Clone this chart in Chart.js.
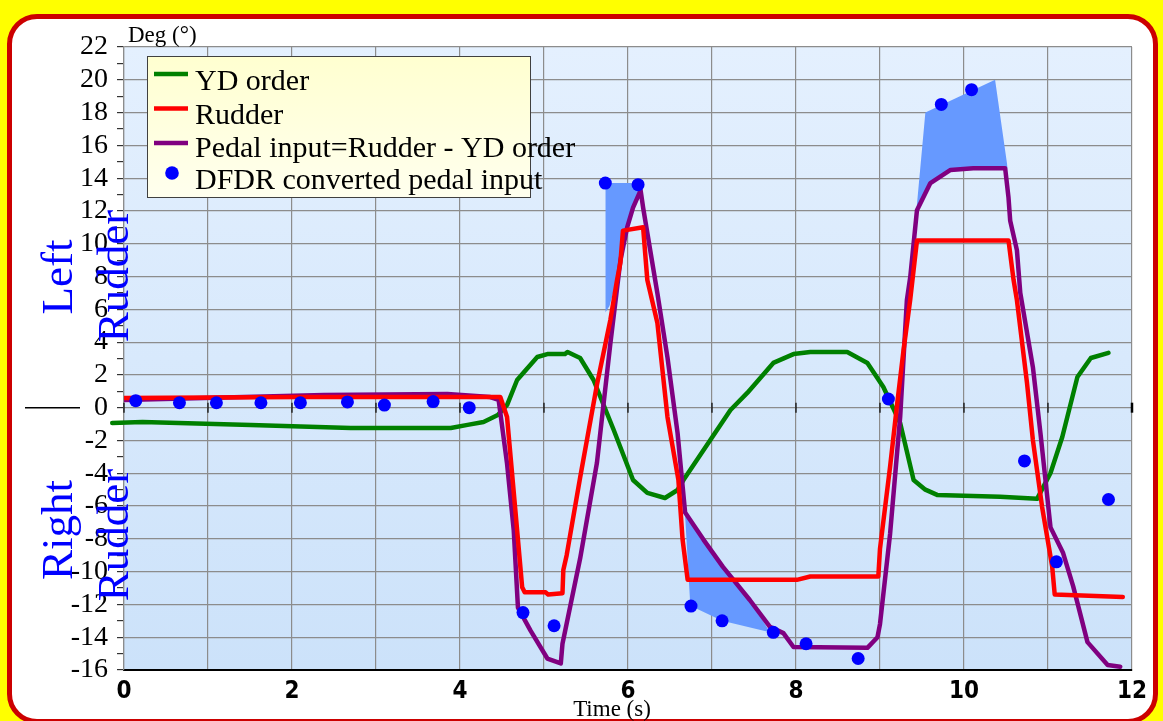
<!DOCTYPE html>
<html>
<head>
<meta charset="utf-8">
<script src="https://cdn.jsdelivr.net/npm/chart.js@4/dist/chart.umd.min.js"></script>
<style>
  html, body { margin: 0; padding: 0; background: #ffff00; overflow: hidden; }
  #frame {
    position: absolute; left: 7px; top: 14px; width: 1141px; height: 700px;
    border: 5px solid #cc0000; border-radius: 30px; background: #ffffff;
  }
  #chart { position: absolute; left: 0; top: 0; }
</style>
</head>
<body>
<div id="frame"></div>
<canvas id="chart" width="1163" height="721"></canvas>
<script>
// time axis (s) and degrees
const ydTime = [-0.14, 0.22, 1.51, 2.70, 3.89, 4.09, 4.28, 4.45, 4.56, 4.68, 4.92, 5.04, 5.25, 5.28, 5.43, 5.59, 5.83, 6.06, 6.23, 6.44, 6.59, 6.66, 6.98, 7.22, 7.42, 7.73, 7.97, 8.17, 8.61, 8.85, 9.04, 9.24, 9.40, 9.54, 9.68, 10.43, 10.87, 11.03, 11.17, 11.35, 11.51, 11.72];
const ydDeg = [-0.93, -0.87, -1.05, -1.24, -1.24, -1.05, -0.87, -0.45, 0.16, 1.69, 3.09, 3.27, 3.27, 3.40, 3.03, 1.69, -1.36, -4.41, -5.20, -5.51, -5.02, -4.41, -1.97, -0.14, 0.90, 2.73, 3.27, 3.40, 3.40, 2.73, 1.26, -0.93, -4.41, -5.0, -5.32, -5.44, -5.56, -3.98, -1.79, 1.87, 3.03, 3.34];

const rudderTime = [0, 2.10, 4.48, 4.56, 4.68, 4.74, 4.77, 5.02, 5.05, 5.22, 5.23, 5.27, 5.43, 5.63, 5.79, 5.87, 5.91, 5.94, 6.18, 6.23, 6.35, 6.47, 6.60, 6.65, 6.71, 8.01, 8.17, 8.98, 9.00, 9.12, 9.20, 9.28, 9.36, 9.44, 10.53, 10.59, 10.63, 10.75, 10.82, 10.93, 11.05, 11.08, 11.89];
const rudderDeg = [0.59, 0.65, 0.65, -0.57, -7.48, -10.95, -11.26, -11.26, -11.4, -11.32, -9.9, -9.0, -4.27, 1.39, 5.35, 7.79, 8.87, 10.8, 11.0, 7.79, 5.17, -0.57, -4.41, -8.06, -10.5, -10.5, -10.3, -10.3, -8.6, -3.6, 0.04, 3.5, 6.6, 10.2, 10.2, 7.79, 6.56, 1.5, -1.97, -6.06, -9.7, -11.4, -11.54];

const pedalTime = [0, 2.38, 3.85, 4.36, 4.46, 4.56, 4.64, 4.69, 4.84, 5.04, 5.20, 5.22, 5.43, 5.63, 5.79, 5.91, 5.99, 6.06, 6.15, 6.18, 6.35, 6.47, 6.59, 6.68, 6.90, 7.13, 7.45, 7.69, 7.85, 7.97, 8.85, 8.97, 9.00, 9.12, 9.24, 9.32, 9.36, 9.44, 9.60, 9.84, 10.11, 10.49, 10.53, 10.55, 10.63, 10.67, 10.82, 10.91, 11.03, 11.18, 11.30, 11.47, 11.71, 11.86];
const pedalDeg = [0.47, 0.77, 0.84, 0.65, 0.47, -3.4, -7.5, -12.2, -13.6, -15.3, -15.6, -14.4, -9.2, -3.37, 3.92, 8.99, 11.0, 12.2, 13.26, 12.2, 6.97, 3.06, -1.54, -6.4, -8.06, -9.71, -11.73, -13.37, -13.75, -14.6, -14.65, -14.0, -13.2, -7.7, -0.57, 6.56, 7.96, 12.04, 13.7, 14.5, 14.6, 14.6, 12.8, 11.4, 9.6, 7.0, 2.48, -1.54, -7.3, -8.87, -10.9, -14.3, -15.7, -15.8];

const dfdrTime = [0.14, 0.66, 1.10, 1.63, 2.10, 2.66, 3.10, 3.68, 4.11, 4.75, 5.12, 5.73, 6.12, 6.75, 7.12, 7.73, 8.12, 8.74, 9.10, 9.73, 10.09, 10.72, 11.10, 11.72];
const dfdrDeg = [0.43, 0.30, 0.30, 0.30, 0.30, 0.35, 0.16, 0.37, 0.0, -12.5, -13.3, 13.7, 13.6, -12.1, -13.0, -13.7, -14.4, -15.3, 0.53, 18.5, 19.4, -3.25, -9.4, -5.6];

// shaded gaps between DFDR pedal and computed pedal
const shadeA_upTime = [5.73, 6.09, 6.15];
const shadeA_upDeg = [13.7, 13.7, 13.3];
const shadeA_loTime = [5.73, 5.78, 5.85, 5.91, 5.99, 6.06, 6.15];
const shadeA_loDeg = [5.8, 6.2, 7.5, 9.0, 11.0, 12.2, 13.3];
const shadeB_upTime = [6.68, 6.90, 7.13, 7.45, 7.69];
const shadeB_upDeg = [-6.6, -8.06, -9.71, -11.73, -13.7];
const shadeB_loTime = [6.68, 6.74, 6.75, 7.12, 7.69];
const shadeB_loDeg = [-6.6, -11.9, -12.1, -13.0, -13.7];
const shadeC_upTime = [9.43, 9.54, 10.37, 10.52];
const shadeC_upDeg = [11.85, 18.0, 20.0, 14.6];
const shadeC_loTime = [9.43, 9.60, 9.84, 10.11, 10.49, 10.52];
const shadeC_loDeg = [11.85, 13.7, 14.5, 14.6, 14.6, 14.6];

const legendItems = [
  { label: "YD order", color: "#008000", type: "line" },
  { label: "Rudder", color: "#ff0000", type: "line" },
  { label: "Pedal input=Rudder - YD order", color: "#800080", type: "line" },
  { label: "DFDR converted pedal input", color: "#0000ff", type: "dot" },
];

const pts = (xs, ys) => xs.map((x, i) => ({ x: x, y: ys[i] }));

const SHADE = "rgb(102,153,255)";
const GRID = "#8c8c8c";
const SERIF = "'Liberation Serif', 'Times New Roman', serif";

function shadeSet(up, fillTo, order) {
  return {
    data: up, borderWidth: 0, borderColor: "rgba(0,0,0,0)", pointRadius: 0,
    backgroundColor: SHADE, fill: fillTo, order: order, tension: 0,
  };
}

// plot background, legend and the side labels
const decor = {
  id: "decor",
  beforeDraw(chart) {
    const { ctx, chartArea: a } = chart;
    const g = ctx.createLinearGradient(0, a.top, 0, a.bottom);
    g.addColorStop(0, "#e4f0fe");
    g.addColorStop(1, "#cce2fa");
    ctx.save();
    ctx.fillStyle = g;
    ctx.fillRect(a.left, a.top, a.right - a.left, a.bottom - a.top);
    ctx.restore();
  },
  afterDraw(chart) {
    const { ctx, scales } = chart;
    const x = scales.x, y = scales.y;
    const y0 = y.getPixelForValue(0);
    ctx.save();

    // small marks along the zero line
    ctx.strokeStyle = "#000";
    for (let t = 0; t <= 12; t++) {
      const px = x.getPixelForValue(t);
      ctx.lineWidth = t === 12 ? 2.5 : 1.2;
      ctx.beginPath();
      ctx.moveTo(px, y0 - 5);
      ctx.lineTo(px, y0 + 5);
      ctx.stroke();
    }
    ctx.lineWidth = 1.5;
    ctx.beginPath();
    ctx.moveTo(25, y0);
    ctx.lineTo(80, y0);
    ctx.stroke();

    // axis titles
    ctx.fillStyle = "#000";
    ctx.font = "23px " + SERIF;
    ctx.textAlign = "left";
    ctx.textBaseline = "alphabetic";
    ctx.fillText("Deg (°)", 128, 42);
    ctx.textAlign = "center";
    ctx.fillText("Time (s)", 612, 716);

    // legend
    const bx = 147.5, by = 56.5, bw = 383, bh = 141;
    const lg = ctx.createLinearGradient(0, by, 0, by + bh);
    lg.addColorStop(0, "#ffffd0");
    lg.addColorStop(1, "#ffffee");
    ctx.fillStyle = lg;
    ctx.fillRect(bx, by, bw, bh);
    ctx.strokeStyle = "#404040";
    ctx.lineWidth = 1;
    ctx.strokeRect(bx, by, bw, bh);
    const symY = [74, 108.5, 143, 173];
    const txtY = [90, 123.5, 156.5, 188.5];
    ctx.font = "30px " + SERIF;
    ctx.textAlign = "left";
    legendItems.forEach((it, i) => {
      if (it.type === "line") {
        ctx.strokeStyle = it.color;
        ctx.lineWidth = 4.5;
        ctx.beginPath();
        ctx.moveTo(154, symY[i]);
        ctx.lineTo(188, symY[i]);
        ctx.stroke();
      } else {
        ctx.fillStyle = it.color;
        ctx.beginPath();
        ctx.arc(172, symY[i], 6.8, 0, Math.PI * 2);
        ctx.fill();
      }
      ctx.fillStyle = "#000";
      ctx.fillText(it.label, 195, txtY[i]);
    });

    // Left / Right Rudder
    ctx.fillStyle = "#0000ff";
    ctx.font = "45px " + SERIF;
    ctx.textAlign = "center";
    const side = [["Left", 72, 277], ["Rudder", 128, 276], ["Right", 72, 530], ["Rudder", 128, 535]];
    side.forEach(([t, px, py]) => {
      ctx.save();
      ctx.translate(px, py);
      ctx.rotate(-Math.PI / 2);
      ctx.fillText(t, 0, 0);
      ctx.restore();
    });
    ctx.restore();
  },
};

const ctx = document.getElementById("chart").getContext("2d");
new Chart(ctx, {
  type: "line",
  data: {
    datasets: [
      {
        label: "DFDR converted pedal input",
        data: pts(dfdrTime, dfdrDeg),
        showLine: false, pointRadius: 6.5, pointBorderWidth: 0,
        pointBackgroundColor: "#0000ff", backgroundColor: "#0000ff", order: 0,
      },
      {
        label: "Rudder", data: pts(rudderTime, rudderDeg),
        borderColor: "#ff0000", borderWidth: 4.5, pointRadius: 0, tension: 0,
        borderJoinStyle: "round", borderCapStyle: "round", order: 1,
      },
      {
        label: "Pedal input=Rudder - YD order", data: pts(pedalTime, pedalDeg),
        borderColor: "#800080", borderWidth: 4.5, pointRadius: 0, tension: 0,
        borderJoinStyle: "round", borderCapStyle: "round", order: 2,
      },
      {
        label: "YD order", data: pts(ydTime, ydDeg),
        borderColor: "#008000", borderWidth: 4.5, pointRadius: 0, tension: 0,
        borderJoinStyle: "round", borderCapStyle: "round", order: 3,
        clip: { left: 16, right: 0, top: 0, bottom: 0 },
      },
      shadeSet(pts(shadeA_upTime, shadeA_upDeg), 5, 4),
      shadeSet(pts(shadeA_loTime, shadeA_loDeg), false, 5),
      shadeSet(pts(shadeB_upTime, shadeB_upDeg), 7, 6),
      shadeSet(pts(shadeB_loTime, shadeB_loDeg), false, 7),
      shadeSet(pts(shadeC_upTime, shadeC_upDeg), 9, 8),
      shadeSet(pts(shadeC_loTime, shadeC_loDeg), false, 9),
    ],
  },
  options: {
    responsive: false,
    devicePixelRatio: 1,
    animation: false,
    events: [],
    layout: { padding: { left: 0, right: 31, top: 47, bottom: 0 } },
    plugins: { legend: { display: false }, tooltip: { enabled: false } },
    scales: {
      x: {
        type: "linear", min: 0, max: 12,
        afterFit: (s) => { s.height = 51; },
        ticks: {
          stepSize: 1, autoSkip: false, maxRotation: 0, padding: 7, color: "#000",
          font: { family: "'Liberation Sans Narrow', 'DejaVu Sans Condensed', 'Liberation Sans', sans-serif", size: 24, weight: "bold" },
          callback: (v) => (v % 2 === 0 ? v : ""),
        },
        grid: { color: GRID, lineWidth: 1.2, drawTicks: false },
        border: { color: "#000", width: 2 },
      },
      y: {
        type: "linear", min: -16, max: 22,
        afterFit: (s) => { s.width = 124; },
        ticks: {
          stepSize: 1, autoSkip: false, padding: 9, color: "#000",
          font: { family: SERIF, size: 28 },
          callback: (v) => (v % 2 === 0 ? v : ""),
        },
        grid: {
          color: (c) => (c.tick && c.tick.value % 2 === 0 ? GRID : "rgba(0,0,0,0)"),
          lineWidth: 1.2, tickLength: 7, tickColor: "#333",
        },
        border: { color: GRID, width: 1.2 },
      },
    },
  },
  plugins: [decor],
});
</script>
</body>
</html>
